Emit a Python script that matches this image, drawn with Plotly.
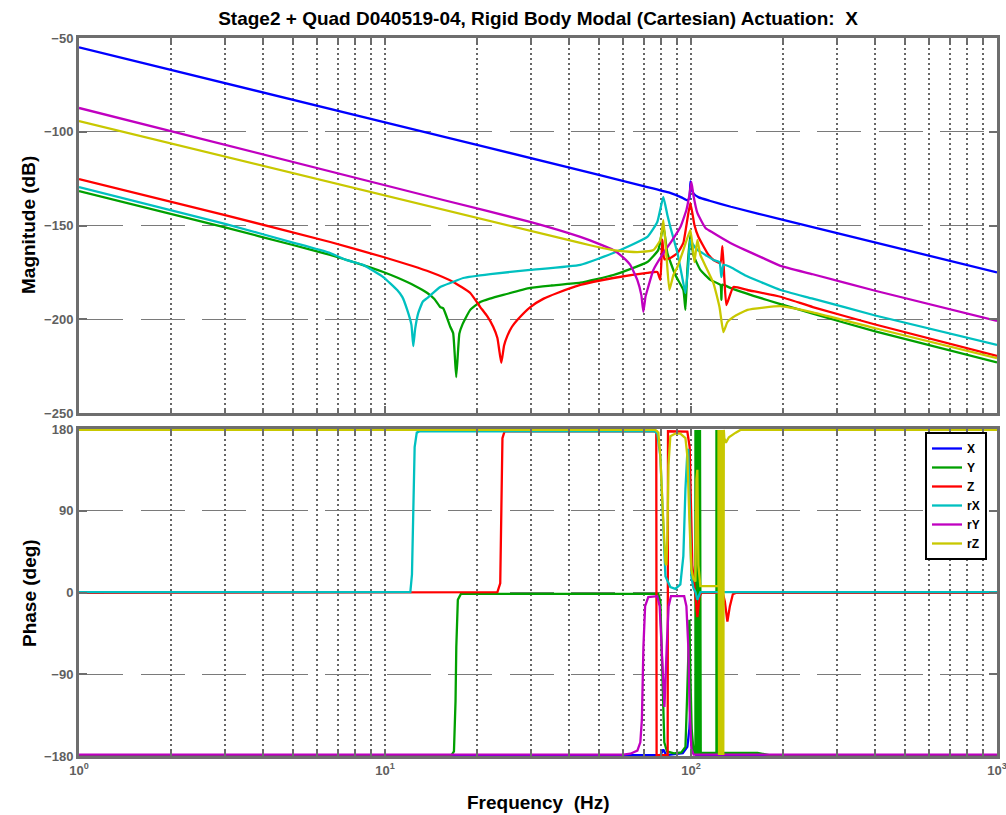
import plotly.graph_objects as go

# ---------------- data ----------------
series_names = ["X", "Y", "Z", "rX", "rY", "rZ"]

# --- X ---
f_mag_X = [1, 10, 50, 70, 85, 93, 97, 98.8, 99.6, 100.4, 102, 106, 115, 135, 200, 1000]
mag_X = [-55.0, -95.0, -123.0, -129.0, -132.5, -135.0, -136.5, -135.5, -126.5, -130.5,
         -133.0, -135.0, -136.8, -140.0, -147.0, -175.0]
f_ph_X = [1, 79.4, 81.2, 83.0, 94.0, 97.3, 98.8, 99.5, 100.3, 101.8, 104, 1000]
ph_X = [-179, -179, -173, -179, -177, -170, -150, -128, -160, -175, -179, -179]

# --- Y ---
f_mag_Y = [1, 3, 5, 6.62, 8, 9.87, 11, 12.5, 13.75, 14.5, 15.15, 15.5, 16.34, 16.7, 17.09,
           17.5, 17.89, 18.99, 20.48, 22, 24.35, 29.85, 35, 43.48, 55.74, 72.0, 78.2, 81.2,
           83.7, 88.9, 94.4, 95.9, 97.3, 99.5, 101.8, 107.3, 115.7, 124.8, 125.7, 126.7,
           134.5, 160, 196, 250, 400, 1000]
mag_Y = [-131.6, -151.0, -160.4, -165.7, -169.8, -174.8, -177.9, -182.1, -186.0, -189.2,
         -193.5, -194.2, -204.0, -207.4, -230.8, -207.6, -203.0, -195.0, -190.8, -189.0,
         -187.0, -183.3, -182.0, -180.5, -176.4, -169.5, -163.0, -150.0, -164.7, -176.4,
         -184.4, -195.0, -173.7, -155.0, -165.7, -173.7, -179.0, -181.7, -189.7, -181.5,
         -183.3, -187.5, -191.9, -197.0, -206.5, -223.0]
f_ph_Y = [1, 16.5, 16.8, 17.0, 17.1, 17.3, 17.7, 78.2, 79.4, 80.6, 81.8, 83.5, 88, 93,
          95.9, 97.0, 98.0, 98.8, 99.5, 100.5, 102,
          103.4, 103.4, 104.0, 104.6, 105.2, 105.8, 106.4, 107.0, 107.6, 108.0,
          121.1, 121.1, 121.8, 122.5, 123.2, 123.9, 124.6, 125.3, 126.0, 126.7, 127.0,
          165, 180, 1000]
ph_Y = [-179, -179, -175, -120, -60, -8, -1.5, -1.5, -10, -90, -165, -175, -177, -176,
        -170, -120, -60, -30, -90, -150, -176,
        -177, 179, -179, 179, -179, 179, -179, 179, -179, -176.5,
        -176.5, 179, -179, 179, -179, 179, -179, 179, -179, 179, -176.5,
        -176.5, -179, -179]

# --- Z ---
f_mag_Z = [1, 3, 6.62, 9.87, 14.05, 16.71, 18.99, 20.48, 21.6, 22.59, 23.3, 23.99, 24.5,
           25.09, 26, 27.06, 29.85, 33, 36.57, 43.48, 55.74, 72.0, 77.6, 79.4, 80.6, 81.9,
           85.6, 90.3, 94.4, 99.5, 102.6, 105.7, 113.1, 118.4, 124.8, 126.7, 128.5, 130.5,
           137.6, 152.9, 196, 250, 400, 1000]
mag_Z = [-125.2, -144.5, -158.8, -166.8, -174.8, -180.1, -186.0, -193.5, -198.5, -204.1,
         -210.0, -223.3, -214.0, -209.0, -204.0, -200.4, -193.5, -189.0, -186.0, -181.7,
         -178.0, -175.3, -174.8, -179.0, -157.5, -168.0, -167.3, -164.7, -159.3, -138.0,
         -149.7, -156.0, -164.7, -168.4, -170.0, -161.0, -178.0, -192.4, -182.8, -184.4,
         -188.0, -193.5, -202.8, -219.6]
f_ph_Z = [1, 23.3, 23.8, 24.0, 24.2, 24.6, 77.0, 77.2, 83.9, 84.1, 97.3, 99.0, 100.0,
          101.0, 103.0, 104.9, 106.5, 108, 127, 129, 131.5, 134, 137, 140, 1000]
ph_Z = [-0.5, 0.5, 10, 90, 170, 177.5, 177.5, -179, -179, 177.5, 177, 160, 90, 30, 2,
        -27, -5, -0.5, -0.5, -10, -32, -15, -2, -0.5, -0.5]

# --- rX ---
f_mag_rX = [1, 3, 5, 6.62, 7.5, 8.48, 9.87, 10.96, 11.4, 11.82, 12.2, 12.37, 12.55, 12.84,
            13.3, 13.74, 15.15, 16.5, 18.02, 22.08, 29.85, 43.48, 55.74, 72.0, 77.6, 81.2,
            83.7, 85.6, 90.3, 93.3, 95.9, 98.0, 99.5, 101.8, 104.9, 111.5, 118.4, 123.9,
            125.7, 127.6, 134.5, 150, 170, 196, 250, 400, 1000]
mag_rX = [-129.5, -149.1, -159.1, -164.7, -168.5, -171.0, -177.5, -184.4, -188.2, -195.0,
          -203.0, -214.3, -205.0, -196.7, -190.5, -188.7, -182.8, -180.4, -178.0, -175.9,
          -173.7, -171.0, -164.7, -156.1, -148.1, -134.8, -144.4, -150.8, -164.7, -176.4,
          -186.0, -171.0, -157.7, -160.4, -163.0, -165.7, -168.4, -169.5, -177.5, -171.0,
          -172.1, -176.5, -180.3, -184.4, -189.0, -198.0, -213.7]
f_ph_rX = [1, 12.1, 12.25, 12.37, 12.5, 12.7, 13.0, 76.0, 77.6, 79.4, 81.2, 82.5, 85.6,
           88.9, 92.3, 94.4, 95.9, 97.3, 98.0, 99.0, 100.3, 101.8, 103.4, 104.9, 107.3,
           1000]
ph_rX = [0.5, 0.5, 20, 90, 160, 176, 177.5, 177.5, 175, 150, 80, 18, 6, 4, 9, 40, 114,
         155, 158, 100, 17, 5, 0.5, -8, 0.5, 0.5]

# --- rY ---
f_mag_rY = [1, 15.5, 30, 43.48, 50, 55.74, 60, 63.37, 66.8, 68.8, 69.88, 71.0, 72.0,
            75.34, 81.24, 86.94, 92.33, 96.6, 98.8, 100.3, 101.8, 104.9, 111.5, 118.4,
            134.5, 150, 170, 196, 250, 400, 1000]
mag_rY = [-87.3, -136.4, -148.2, -156.1, -159.8, -163.1, -167.0, -171.1, -179.1, -187.0,
          -196.1, -188.0, -184.4, -173.7, -164.7, -157.7, -150.8, -141.7, -133.7, -126.8,
          -133.7, -143.3, -151.3, -154.0, -159.3, -163.0, -167.0, -171.5, -176.0, -184.8,
          -200.9]
f_ph_rY = [1, 60, 63.4, 66.8, 68.3, 69.1, 69.9, 70.8, 72.5, 77.6, 79.0, 80.3, 81.9, 83.3,
           84.5, 86.0, 95.0, 96.6, 98.0, 99.0, 100.3, 102, 1000]
ph_rY = [-178.5, -178.5, -177.5, -174, -165, -140, -60, -15, -5, -4, -15, -60, -126,
         -60, -15, -4, -4, -15, -60, -130, -172, -178.5, -178.5]

# --- rZ ---
f_mag_rZ = [1, 43.48, 50, 55.74, 63, 68.32, 75.34, 79.43, 81.24, 83.1, 85.0, 87.6, 90.27,
            94.43, 99.54, 102.6, 104.9, 107.3, 113.1, 118.4, 123.9, 127.6, 131.5, 137.6,
            152.9, 196, 250, 400, 1000]
mag_rZ = [-94.3, -159.3, -161.6, -163.1, -164.0, -164.1, -163.1, -157.7, -147.1, -165.7,
          -184.4, -176.4, -172.1, -163.1, -152.4, -169.5, -157.7, -165.7, -173.7, -180.7,
          -193.5, -206.8, -201.5, -198.8, -195.0, -193.0, -196.3, -204.8, -220.7]
f_ph_rZ = [1, 76.5, 78.2, 79.4, 80.6, 81.8, 82.5, 83.1, 83.7, 84.4, 85.6, 88.9, 92.3,
           95.9, 97.3, 98.8, 100.3, 101.8, 103.4, 104.2, 104.9, 105.7, 107.3, 122.9,
           123.0, 123.0, 123.5, 124.0, 124.5, 125.0, 125.5, 126.0, 126.5, 127.0, 127.5,
           128.0, 128.5, 130, 133, 140, 145.1, 1000]
ph_rZ = [179, 179, 176, 150, 100, 50, 33, 30, 60, 140, 172, 175, 175, 170, 150, 80, 25,
         15, 12, 125, 135, 30, 7, 7,
         -179, 179, -179, 179, -179, 179, -179, 179, -179, 179, -179,
         179, 170, 165, 171, 176, 179, 179]

# axis ticks
freq_tick_vals = [1, 10, 100, 1000]
freq_tick_text = ["10<sup>0</sup>", "10<sup>1</sup>", "10<sup>2</sup>", "10<sup>3</sup>"]
freq_minor_vals = [2, 3, 4, 5, 6, 7, 8, 9, 20, 30, 40, 50, 60, 70, 80, 90,
                   200, 300, 400, 500, 600, 700, 800, 900]
mag_tick_vals = [-250, -200, -150, -100, -50]
phase_tick_vals = [-180, -90, 0, 90, 180]

# ---------------- styling ----------------
COLORS = {"X": "#0000ff", "Y": "#00a000", "Z": "#ff0000",
          "rX": "#00c0c0", "rY": "#c000c0", "rZ": "#c8c800"}
FONT = "Liberation Sans, Arial, Helvetica, sans-serif"
AXLINE = "#6e6e6e"
TICKFONT = dict(family=FONT, size=13, color="#5f5f5f", weight="bold")
LW = 2.3
VGRID = "#666666"

data_table = {
    "X": (f_mag_X, mag_X, f_ph_X, ph_X),
    "Y": (f_mag_Y, mag_Y, f_ph_Y, ph_Y),
    "Z": (f_mag_Z, mag_Z, f_ph_Z, ph_Z),
    "rX": (f_mag_rX, mag_rX, f_ph_rX, ph_rX),
    "rY": (f_mag_rY, mag_rY, f_ph_rY, ph_rY),
    "rZ": (f_mag_rZ, mag_rZ, f_ph_rZ, ph_rZ),
}

fig = go.Figure()
for name in series_names:
    fm, m, fp, p = data_table[name]
    fig.add_trace(go.Scatter(x=fm, y=m, mode="lines", name=name, legendgroup=name,
                             showlegend=False, xaxis="x", yaxis="y",
                             line=dict(color=COLORS[name], width=LW, shape="spline",
                                       smoothing=0.4)))
for name in series_names:
    fm, m, fp, p = data_table[name]
    fig.add_trace(go.Scatter(x=fp, y=p, mode="lines", name=name, legendgroup=name,
                             showlegend=True, xaxis="x2", yaxis="y2",
                             line=dict(color=COLORS[name], width=LW)))

common_x = dict(
    type="log", range=[0, 3], tickmode="array", tickvals=freq_tick_vals,
    showgrid=True, gridcolor=VGRID, griddash="2px,3px", gridwidth=1.5,
    ticks="inside", ticklen=7, tickwidth=2, tickcolor=AXLINE,
    showline=True, linewidth=3, linecolor=AXLINE, mirror="allticks",
    minor=dict(tickmode="array", tickvals=freq_minor_vals, ticks="inside", ticklen=5,
               tickwidth=1.5, tickcolor=AXLINE, showgrid=True, gridcolor=VGRID,
               griddash="2px,3px", gridwidth=1.5),
    zeroline=False, automargin=False,
)
common_y = dict(
    showgrid=True, gridcolor="#7a7a7a", griddash="44px,17.5px", gridwidth=1.2,
    ticks="inside", ticklen=8, tickwidth=2, tickcolor=AXLINE,
    showline=True, linewidth=3, linecolor=AXLINE, mirror="allticks",
    zeroline=False, tickfont=TICKFONT, tickmode="array", automargin=False,
)

top_lo = (756 - 413) / 718
bot_hi = (756 - 429) / 718

fig.update_layout(
    width=1006, height=815,
    margin=dict(l=79, r=9, t=38, b=59, autoexpand=False),
    paper_bgcolor="white", plot_bgcolor="white",
    xaxis=dict(common_x, anchor="y", showticklabels=False),
    yaxis=dict(common_y, domain=[top_lo, 1], range=[-250, -50], tickvals=mag_tick_vals,
               anchor="x"),
    xaxis2=dict(common_x, anchor="y2", ticktext=freq_tick_text, tickfont=TICKFONT,
                ticklabeloverflow="allow"),
    yaxis2=dict(common_y, domain=[0, bot_hi], range=[-180, 180], tickvals=phase_tick_vals,
                anchor="x2"),
    title=dict(text="Stage2 + Quad D040519-04, Rigid Body Modal (Cartesian) Actuation:\u00a0 X",
               x=0.5, xref="paper", xanchor="center", y=1 - 18 / 815, yanchor="middle",
               font=dict(family=FONT, size=19, color="black", weight="bold")),
    legend=dict(x=(925 - 79) / 918, y=(756 - 432) / 718, xanchor="left", yanchor="top",
                bordercolor="black", borderwidth=2, bgcolor="white",
                traceorder="normal",
                font=dict(family=FONT, size=12, color="black", weight="bold")),
    annotations=[
        dict(text="Magnitude (dB)", x=(29 - 79) / 918, y=(756 - 225) / 718,
             xref="paper", yref="paper", textangle=-90, showarrow=False,
             xanchor="center", yanchor="middle",
             font=dict(family=FONT, size=19, color="black", weight="bold")),
        dict(text="Phase (deg)", x=(29 - 79) / 918, y=(756 - 593) / 718,
             xref="paper", yref="paper", textangle=-90, showarrow=False,
             xanchor="center", yanchor="middle",
             font=dict(family=FONT, size=19, color="black", weight="bold")),
        dict(text="Frequency\u00a0 (Hz)", x=0.5, y=(756 - 803) / 718,
             xref="paper", yref="paper", showarrow=False,
             xanchor="center", yanchor="middle",
             font=dict(family=FONT, size=19, color="black", weight="bold")),
    ],
)

fig.write_html("out.html")
